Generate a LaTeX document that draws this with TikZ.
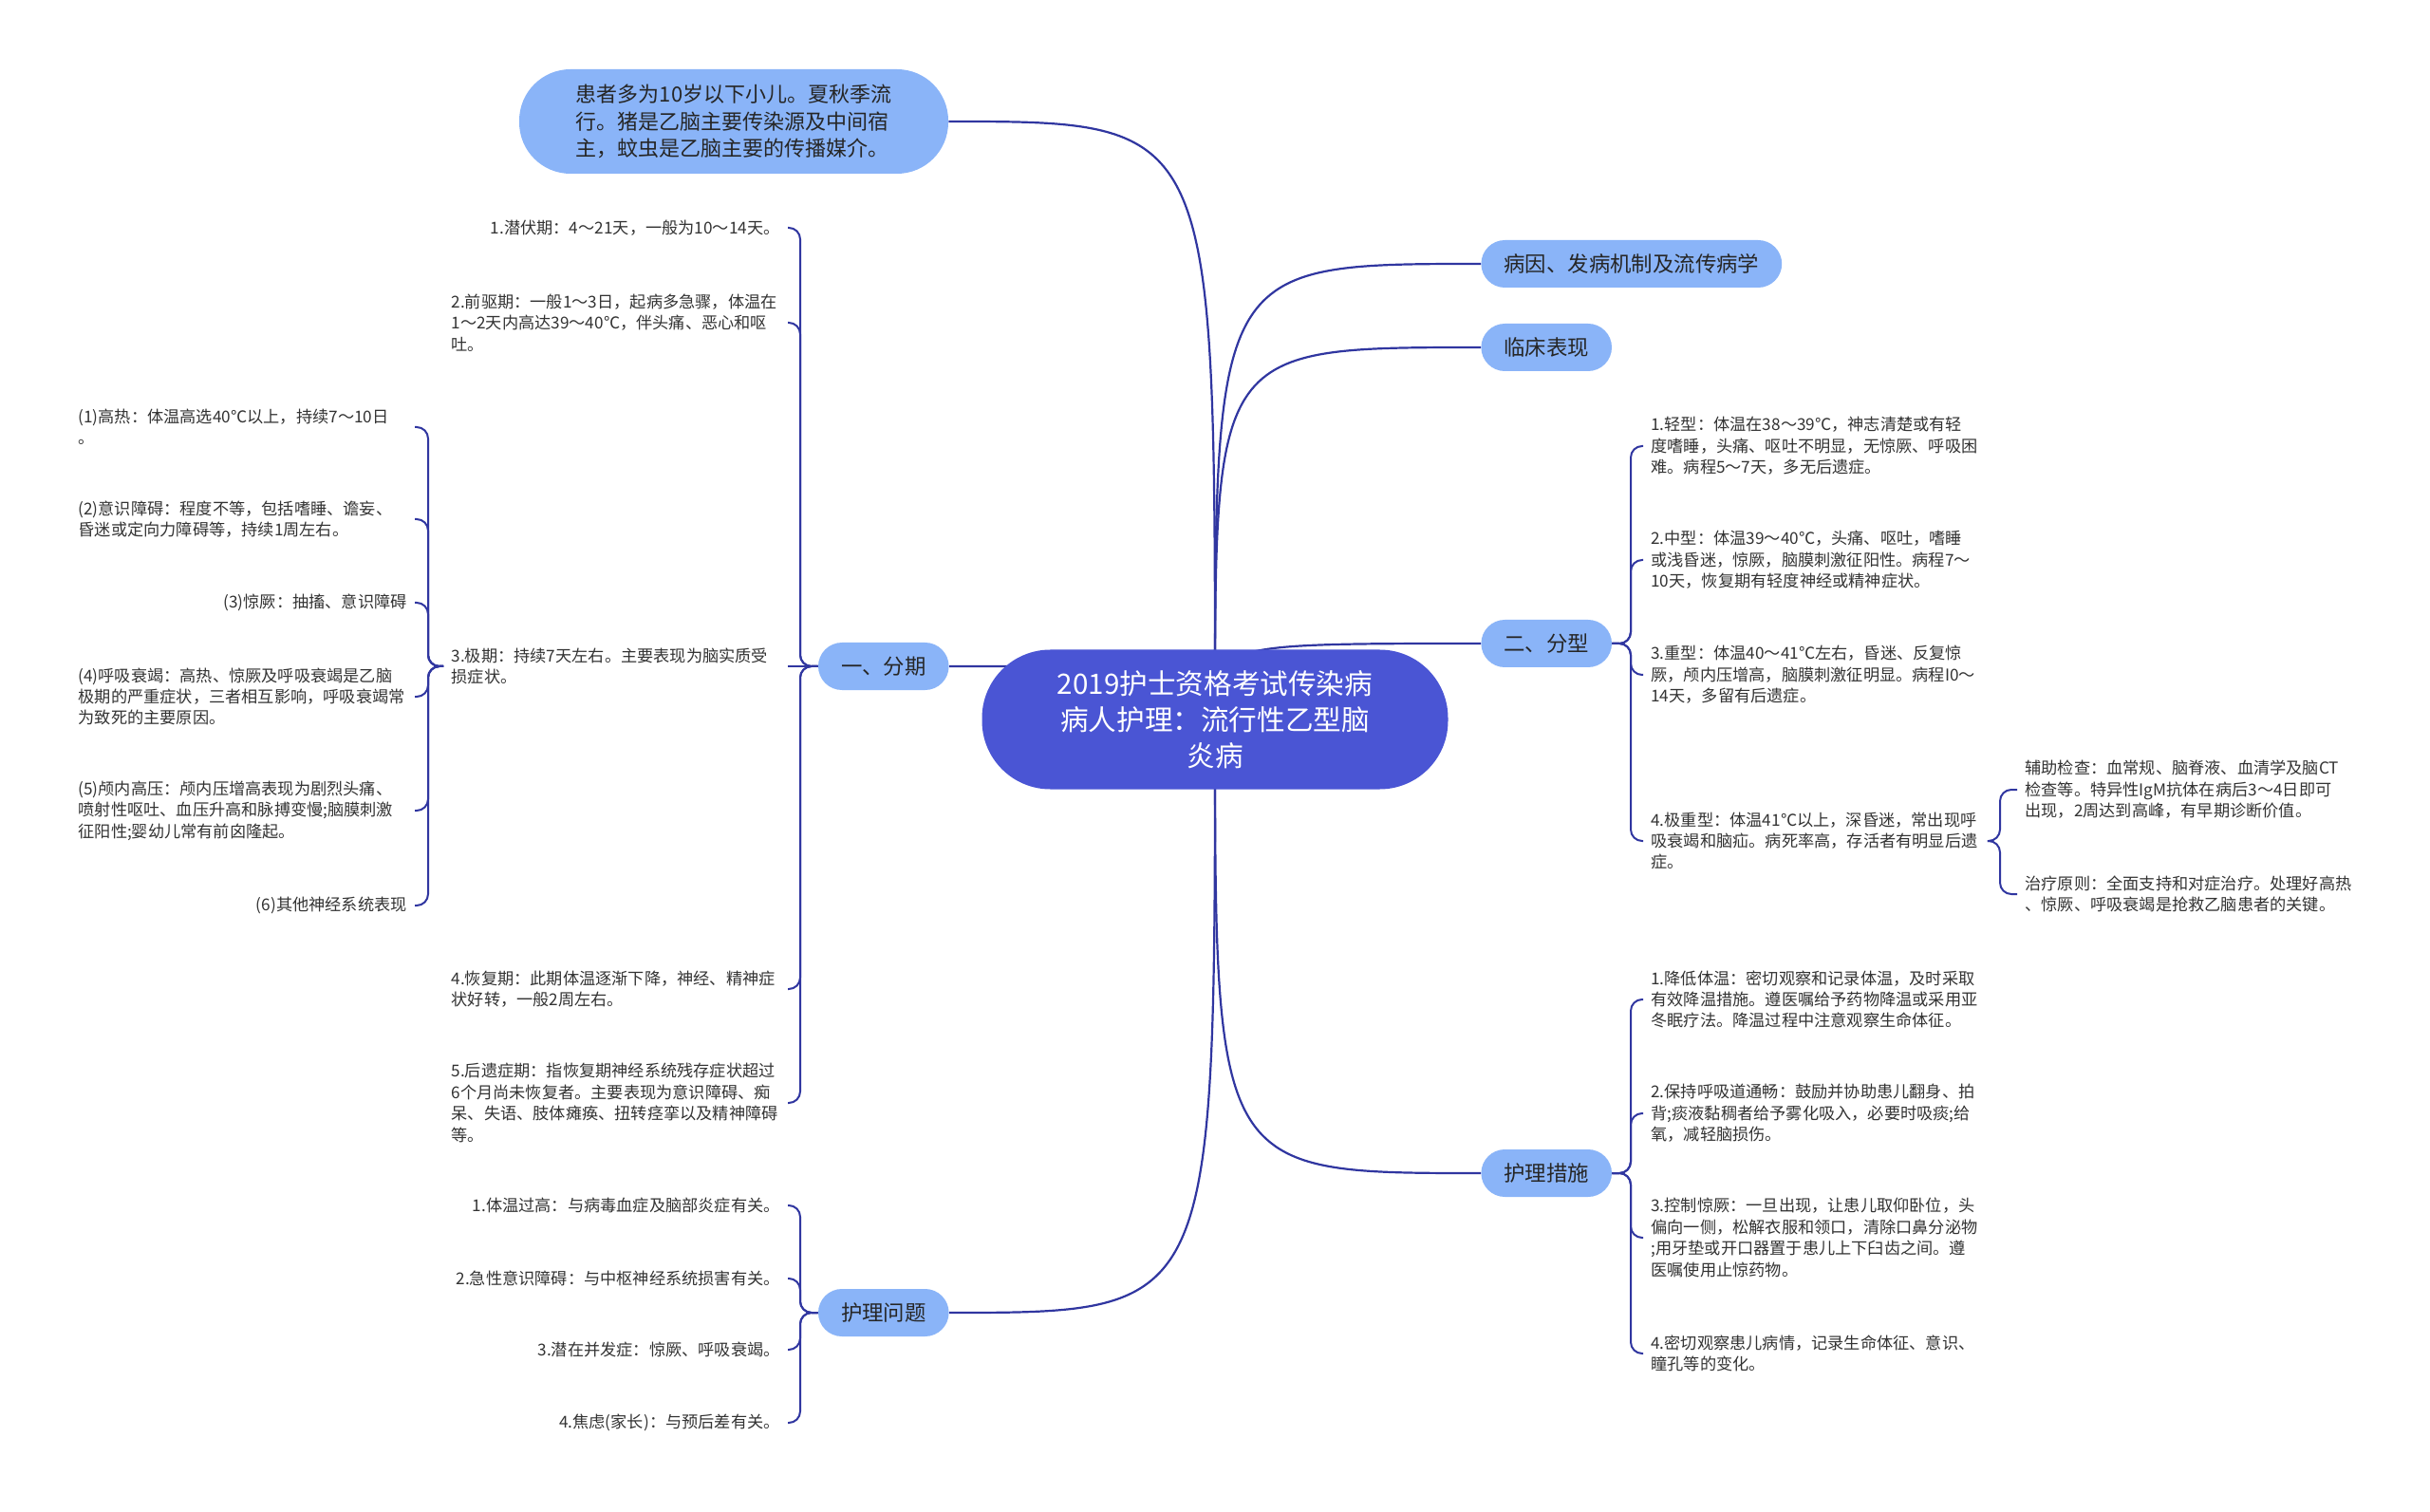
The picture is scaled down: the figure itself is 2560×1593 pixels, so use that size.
\documentclass[tikz,border=0pt]{standalone}
\usepackage{fontspec}
\setmainfont{Noto Sans CJK SC}
\usetikzlibrary{backgrounds}
\definecolor{rootblue}{HTML}{4A55D4}
\definecolor{nodeblue}{HTML}{8AB4F8}
\definecolor{linkblue}{HTML}{3036A0}
\definecolor{leaftext}{HTML}{333333}

\begin{document}
\begin{tikzpicture}[x=0.5pt,y=-0.5pt,
 rootbox/.style={fill=rootblue,text=white,rounded corners=36pt,minimum width=245.5pt,minimum height=73.5pt,align=center,font=\fontsize{14.8}{19}\selectfont},
 srcbox/.style={fill=nodeblue,text=black!85,rounded corners=27pt,minimum width=226pt,minimum height=55pt,align=left,font=\fontsize{11}{14.3}\selectfont},
 mainbox/.style={fill=nodeblue,text=black!85,rounded corners=12.5pt,minimum height=25pt,inner xsep=12pt,font=\fontsize{11.2}{14}\selectfont},
 leaf/.style={text=leaftext,inner xsep=4pt,inner ysep=2pt,align=left,font=\fontsize{8.6}{11.2}\selectfont},
 para/.style={leaf,text width=173pt},
 trunk/.style={draw=linkblue,line width=1.1pt},
 twig/.style={draw=linkblue,line width=1pt,rounded corners=6pt}]
\useasboundingbox (0,0) rectangle (2560,1593);
% centre and main branches
\node[rootbox] (root) at (1280,758) {2019护士资格考试传染病\\病人护理：流行性乙型脑\\炎病};
\node[srcbox] (src) at (773,128) {患者多为10岁以下小儿。夏秋季流\\行。猪是乙脑主要传染源及中间宿\\主，蚊虫是乙脑主要的传播媒介。};
\node[mainbox,anchor=west] (by) at (1560,278) {病因、发病机制及流传病学};
\node[mainbox,anchor=west] (lc) at (1560,366) {临床表现};
\node[mainbox,anchor=west] (fx) at (1560,678) {二、分型};
\node[mainbox,anchor=west] (hc) at (1560,1236) {护理措施};
\node[mainbox,anchor=east] (fq) at (1000,702) {一、分期};
\node[mainbox,anchor=east] (hw) at (1000,1383) {护理问题};
% spines
\coordinate (sq) at (843,0);\coordinate (sj) at (451,0);\coordinate (st) at (1718,0);\coordinate (sz) at (2107,0);
% 一、分期
\node[leaf,anchor=east] (q1) at (830,240) {1.潜伏期：4～21天，一般为10～14天。};
\node[para,anchor=east] (q2) at (830,340) {2.前驱期：一般1～3日，起病多急骤，体温在\\1～2天内高达39～40℃，伴头痛、恶心和呕\\吐。};
\node[para,anchor=east] (q3) at (830,702) {3.极期：持续7天左右。主要表现为脑实质受\\损症状。};
\node[para,anchor=east] (q4) at (830,1042) {4.恢复期：此期体温逐渐下降，神经、精神症\\状好转，一般2周左右。};
\node[para,anchor=east] (q5) at (830,1162) {5.后遗症期：指恢复期神经系统残存症状超过\\6个月尚未恢复者。主要表现为意识障碍、痴\\呆、失语、肢体瘫痪、扭转痉挛以及精神障碍\\等。};
\node[para,anchor=east] (j1) at (437,450) {(1)高热：体温高选40℃以上，持续7～10日\\。};
\node[para,anchor=east] (j2) at (437,547) {(2)意识障碍：程度不等，包括嗜睡、谵妄、\\昏迷或定向力障碍等，持续1周左右。};
\node[leaf,anchor=east] (j3) at (437,635) {(3)惊厥：抽搐、意识障碍};
\node[para,anchor=east] (j4) at (437,734) {(4)呼吸衰竭：高热、惊厥及呼吸衰竭是乙脑\\极期的严重症状，三者相互影响，呼吸衰竭常\\为致死的主要原因。};
\node[para,anchor=east] (j5) at (437,854) {(5)颅内高压：颅内压增高表现为剧烈头痛、\\喷射性呕吐、血压升高和脉搏变慢;脑膜刺激\\征阳性;婴幼儿常有前囟隆起。};
\node[leaf,anchor=east] (j6) at (437,954) {(6)其他神经系统表现};
% 护理问题
\node[leaf,anchor=east] (w1) at (830,1270) {1.体温过高：与病毒血症及脑部炎症有关。};
\node[leaf,anchor=east] (w2) at (830,1347) {2.急性意识障碍：与中枢神经系统损害有关。};
\node[leaf,anchor=east] (w3) at (830,1422) {3.潜在并发症：惊厥、呼吸衰竭。};
\node[leaf,anchor=east] (w4) at (830,1499) {4.焦虑(家长)：与预后差有关。};
% 二、分型
\node[para,anchor=west] (t1) at (1731,470) {1.轻型：体温在38～39℃，神志清楚或有轻\\度嗜睡，头痛、呕吐不明显，无惊厥、呼吸困\\难。病程5～7天，多无后遗症。};
\node[para,anchor=west] (t2) at (1731,590) {2.中型：体温39～40℃，头痛、呕吐，嗜睡\\或浅昏迷，惊厥，脑膜刺激征阳性。病程7～\\10天，恢复期有轻度神经或精神症状。};
\node[para,anchor=west] (t3) at (1731,711) {3.重型：体温40～41℃左右，昏迷、反复惊\\厥，颅内压增高，脑膜刺激征明显。病程I0～\\14天，多留有后遗症。};
\node[para,anchor=west] (t4) at (1731,886) {4.极重型：体温41℃以上，深昏迷，常出现呼\\吸衰竭和脑疝。病死率高，存活者有明显后遗\\症。};
\node[para,anchor=west] (z1) at (2125,832) {辅助检查：血常规、脑脊液、血清学及脑CT\\检查等。特异性IgM抗体在病后3～4日即可\\出现，2周达到高峰，有早期诊断价值。};
\node[para,anchor=west] (z2) at (2125,942) {治疗原则：全面支持和对症治疗。处理好高热\\、惊厥、呼吸衰竭是抢救乙脑患者的关键。};
% 护理措施
\node[para,anchor=west] (m1) at (1731,1053) {1.降低体温：密切观察和记录体温，及时采取\\有效降温措施。遵医嘱给予药物降温或采用亚\\冬眠疗法。降温过程中注意观察生命体征。};
\node[para,anchor=west] (m2) at (1731,1173) {2.保持呼吸道通畅：鼓励并协助患儿翻身、拍\\背;痰液黏稠者给予雾化吸入，必要时吸痰;给\\氧，减轻脑损伤。};
\node[para,anchor=west] (m3) at (1731,1304) {3.控制惊厥：一旦出现，让患儿取仰卧位，头\\偏向一侧，松解衣服和领口，清除口鼻分泌物\\;用牙垫或开口器置于患儿上下臼齿之间。遵\\医嘱使用止惊药物。};
\node[para,anchor=west] (m4) at (1731,1426) {4.密切观察患儿病情，记录生命体征、意识、\\瞳孔等的变化。};
% brackets
\foreach \l in {q1,q2,q4,q5} \draw[twig] (fq.west) -- (fq.west -| sq) |- (\l.east);
\draw[twig] (fq.west) -- (q3.east);
\foreach \l in {j1,j2,j3,j4,j5,j6} \draw[twig] (q3.west) -- (q3.west -| sj) |- (\l.east);
\foreach \l in {w1,w2,w3,w4} \draw[twig] (hw.west) -- (hw.west -| sq) |- (\l.east);
\foreach \l in {t1,t2,t3,t4} \draw[twig] (fx.east) -- (fx.east -| st) |- (\l.west);
\foreach \l in {z1,z2} \draw[twig] (t4.east) -- (t4.east -| sz) |- (\l.west);
\foreach \l in {m1,m2,m3,m4} \draw[twig] (hc.east) -- (hc.east -| st) |- (\l.west);
% curves from the centre
\begin{scope}[on background layer]
\fill[white] (0,0) rectangle (2560,1593);
\draw[trunk] (root.center) .. controls (root.center |- src.east) .. (src.east);
\foreach \b in {by,lc,fx,hc} \draw[trunk] (root.center) .. controls (root.center |- \b.west) .. (\b.west);
\foreach \b in {fq,hw} \draw[trunk] (root.center) .. controls (root.center |- \b.east) .. (\b.east);
\end{scope}
\end{tikzpicture}
\end{document}
